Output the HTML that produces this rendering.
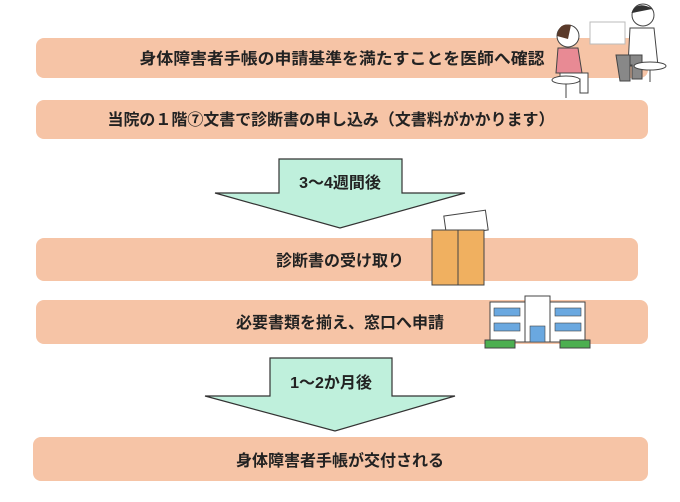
<!DOCTYPE html>
<html><head><meta charset="utf-8"><style>
html,body{margin:0;padding:0;background:#fff;}
svg{display:block}
text{font-family:"Liberation Sans","Noto Sans CJK JP",sans-serif;font-weight:bold;fill:#222;}
</style></head><body>
<svg width="680" height="502" viewBox="0 0 680 502" xmlns="http://www.w3.org/2000/svg">
<g fill="#f6c4a6">
<rect x="36" y="38" width="612" height="40" rx="8"/>
<rect x="36" y="100" width="612" height="39" rx="8"/>
<rect x="36" y="238" width="602" height="43" rx="8"/>
<rect x="36" y="300" width="612" height="44" rx="8"/>
<rect x="33" y="437" width="615" height="44" rx="8"/>
</g>
<g font-size="16" text-anchor="middle">
<text x="342" y="64" textLength="405" lengthAdjust="spacingAndGlyphs">身体障害者手帳の申請基準を満たすことを医師へ確認</text>
<text x="331" y="125" textLength="447" lengthAdjust="spacingAndGlyphs">当院の１階⑦文書で診断書の申し込み（文書料がかかります）</text>
<text x="340" y="266">診断書の受け取り</text>
<text x="340" y="328">必要書類を揃え、窓口へ申請</text>
<text x="340" y="466">身体障害者手帳が交付される</text>
</g>
<polygon points="279,159 402,159 402,193 465,193 340,228 215,193 279,193" fill="#bff0dc" stroke="#333" stroke-width="1.2"/>
<text x="340" y="188" font-size="16" text-anchor="middle">3～4週間後</text>
<polygon points="270,358 392,358 392,396 455,396 335,431 205,396 270,396" fill="#bff0dc" stroke="#333" stroke-width="1.2"/>
<text x="331" y="388" font-size="16" text-anchor="middle">1～2か月後</text>
<!-- envelope -->
<rect x="445" y="213" width="42" height="20" fill="#fff" stroke="#444" transform="rotate(-8 466 223)"/>
<rect x="432" y="230" width="52" height="55" fill="#f0b060" stroke="#444"/>
<line x1="458" y1="230" x2="458" y2="285" stroke="#444"/>
<!-- building -->
<rect x="490" y="302" width="95" height="40" fill="#fff" stroke="#444"/>
<rect x="525" y="296" width="25" height="46" fill="#fff" stroke="#444"/>
<g fill="#6aa8e0" stroke="#444" stroke-width=".6">
<rect x="494" y="308" width="26" height="8"/><rect x="555" y="308" width="26" height="8"/>
<rect x="494" y="323" width="26" height="8"/><rect x="555" y="323" width="26" height="8"/>
<rect x="530" y="326" width="15" height="16"/>
</g>
<rect x="485" y="340" width="30" height="8" fill="#4caf50" stroke="#444"/>
<rect x="560" y="340" width="30" height="8" fill="#4caf50" stroke="#444"/>
<!-- people -->
<rect x="590" y="22" width="35" height="22" fill="#fff" stroke="#bbb"/>
<circle cx="568" cy="36" r="11" fill="#fff" stroke="#444"/>
<path d="M557 36 q2 -14 14 -11 l-3 14z" fill="#5a3a2a"/>
<path d="M558 48 h20 l4 25 h-26z" fill="#e88a94" stroke="#444"/>
<path d="M560 73 h28 v20 h-8 v-14 h-20z" fill="#fff" stroke="#444"/>
<ellipse cx="566" cy="80" rx="14" ry="4" fill="#fff" stroke="#444"/>
<line x1="566" y1="84" x2="566" y2="98" stroke="#444"/>
<circle cx="643" cy="15" r="11" fill="#fff" stroke="#444"/>
<path d="M632 13 q5 -12 20 -4" fill="#333" stroke="#333"/>
<path d="M630 28 h24 l4 38 h-30z" fill="#fff" stroke="#444"/>
<path d="M628 55 h14 v24 h-10 v-14 h-4z" fill="#888" stroke="#444"/>
<path d="M616 55 h14 v26 h-10z" fill="#888" stroke="#444"/>
<ellipse cx="650" cy="66" rx="16" ry="4" fill="#fff" stroke="#444"/>
<line x1="650" y1="70" x2="650" y2="82" stroke="#444"/>
</svg>
</body></html>
